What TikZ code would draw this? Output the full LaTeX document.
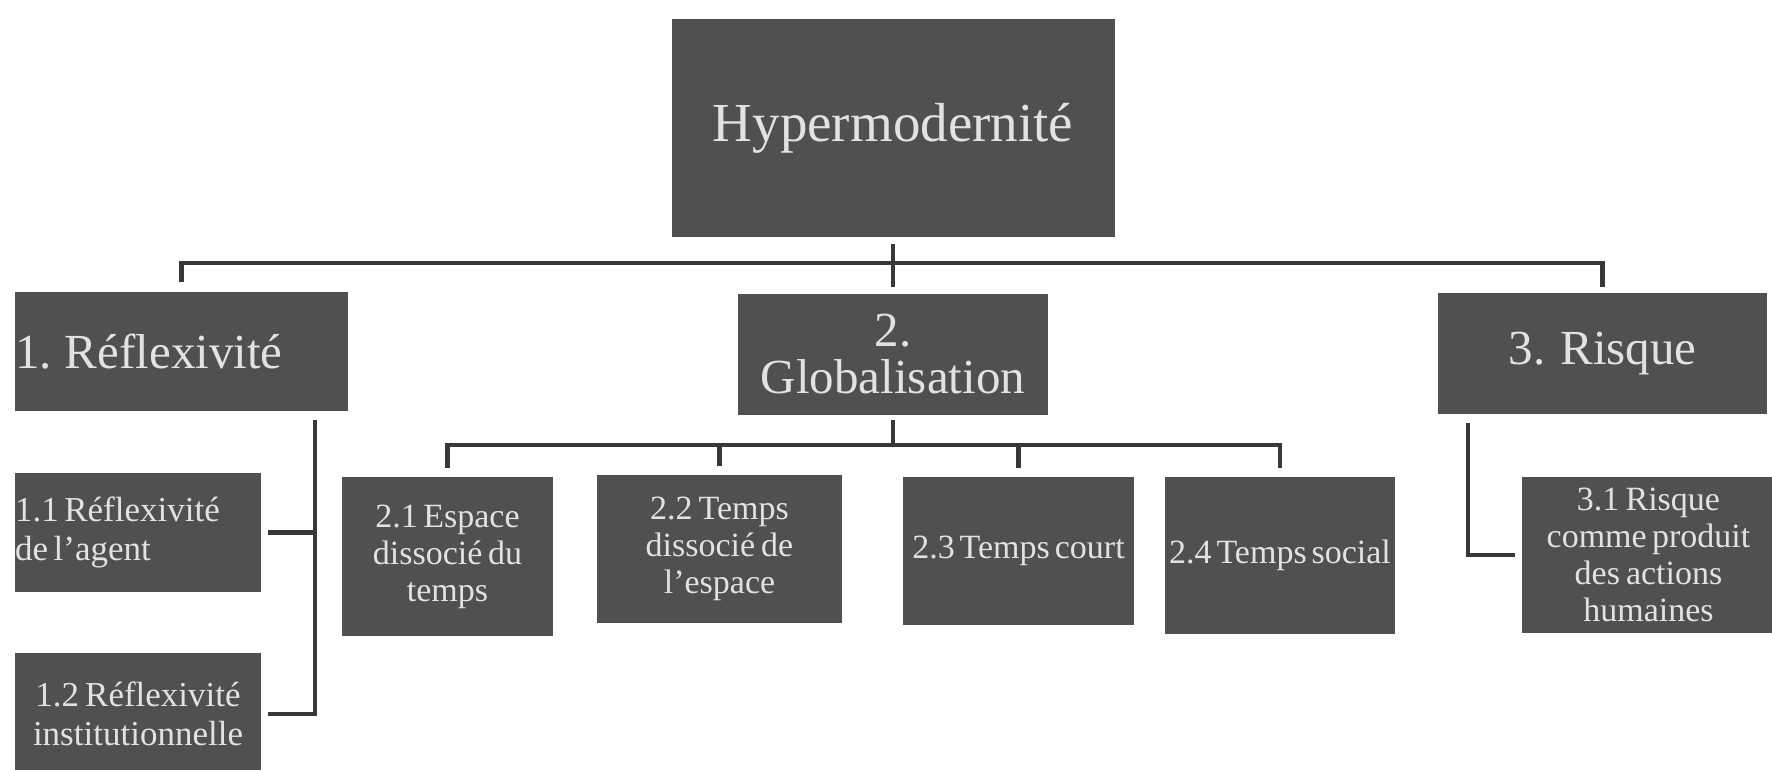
\documentclass[tikz,border=0pt]{standalone}
\usepackage{fontspec}
\setmainfont{Liberation Serif}
\definecolor{boxgray}{HTML}{505050}
\definecolor{txtgray}{HTML}{E2E2E2}
\definecolor{linegray}{HTML}{383838}
\frenchspacing
\newcommand\mytightA{\spaceskip=.14em plus .05em\relax}
\newcommand\mytightB{\spaceskip=.16em plus .05em\relax}
\newcommand\mynormalsp{\spaceskip=.27em plus .05em\relax}
\begin{document}
\begin{tikzpicture}[x=1pt,y=-1pt]
\tikzset{
  box/.style={fill=boxgray, text=txtgray, inner sep=0pt, align=center,
    font=\fontsize{34}{37}\selectfont, execute at begin node=\mytightA},
  subbox/.style={box, font=\fontsize{35}{39}\selectfont, execute at begin node=\mytightB},
  big/.style={font=\fontsize{49}{47}\selectfont, execute at begin node=\mynormalsp},
  conn/.style={draw=linegray, line width=4.5pt}
}
\useasboundingbox (0,0) rectangle (1772,769);
\fill[white] (0,0) rectangle (1772,769);

\node[box, minimum width=443pt, minimum height=218pt, text width=443pt,
  font=\fontsize{55}{60}\selectfont] (H) at (893,128) {Hypermodernité};

\node[box, big, minimum width=333pt, minimum height=119pt, text width=333pt, align=left] (R1) at (181.5,351.5) {1. Réflexivité};
\node[box, big, minimum width=310pt, minimum height=121pt, text width=310pt] (G) at (893,354.5) {2.\\Globalisation};
\node[box, big, minimum width=329pt, minimum height=121pt, text width=329pt] (Rk) at (1602.5,353.5) {3. Risque};

\node[subbox, minimum width=246pt, minimum height=119pt, text width=246pt, align=left] (A11) at (138,532.5) {1.1 Réflexivité\\de l’agent};
\node[subbox, minimum width=246pt, minimum height=122pt, text width=246pt] (A12) at (138,714) {1.2 Réflexivité\\institutionnelle};

\node[box, minimum width=211pt, minimum height=159pt, text width=211pt] (B1) at (447.5,556.5) {2.1 Espace\\dissocié du\\temps};
\node[box, minimum width=245pt, minimum height=148pt, text width=245pt] (B2) at (719.5,549) {2.2 Temps\\dissocié de\\l’espace};
\node[box, minimum width=231pt, minimum height=148pt, text width=231pt] (B3) at (1018.5,551) {2.3 Temps court};
\node[box, minimum width=230pt, minimum height=157pt, text width=230pt] (B4) at (1280,555.5) {2.4 Temps social};

\node[box, minimum width=253pt, minimum height=156pt, text width=253pt] (C1) at (1648.5,555) {3.1 Risque\\comme produit\\des actions\\humaines};

% top level connectors
\coordinate (hb) at (893,263);
\draw[conn] ([yshift=-7pt]H.south) -- ([yshift=7pt]G.north);
\draw[conn] ([yshift=10pt]R1.north) -- (R1.north |- hb) -- (Rk.north |- hb) -- ([yshift=6pt]Rk.north);

% globalisation connectors
\coordinate (gb) at (893,445);
\draw[conn] ([yshift=-5pt]G.south) -- (gb);
\draw[conn] ([yshift=9pt]B1.north) -- (B1.north |- gb) -- (B4.north |- gb) -- ([yshift=9pt]B4.north);
\draw[conn] (B2.north |- gb) -- ([yshift=9pt]B2.north);
\draw[conn] (B3.north |- gb) -- ([yshift=9pt]B3.north);

% reflexivite connectors
\coordinate (rv) at (315,420);
\draw[conn] (rv) |- ([xshift=7pt]A12.east);
\draw[conn] ([xshift=7pt]A11.east) -- (A11.east -| rv);

% risque connector
\coordinate (kv) at (1468,423);
\draw[conn] (kv) |- ([xshift=-7pt]C1.west);
\end{tikzpicture}
\end{document}
